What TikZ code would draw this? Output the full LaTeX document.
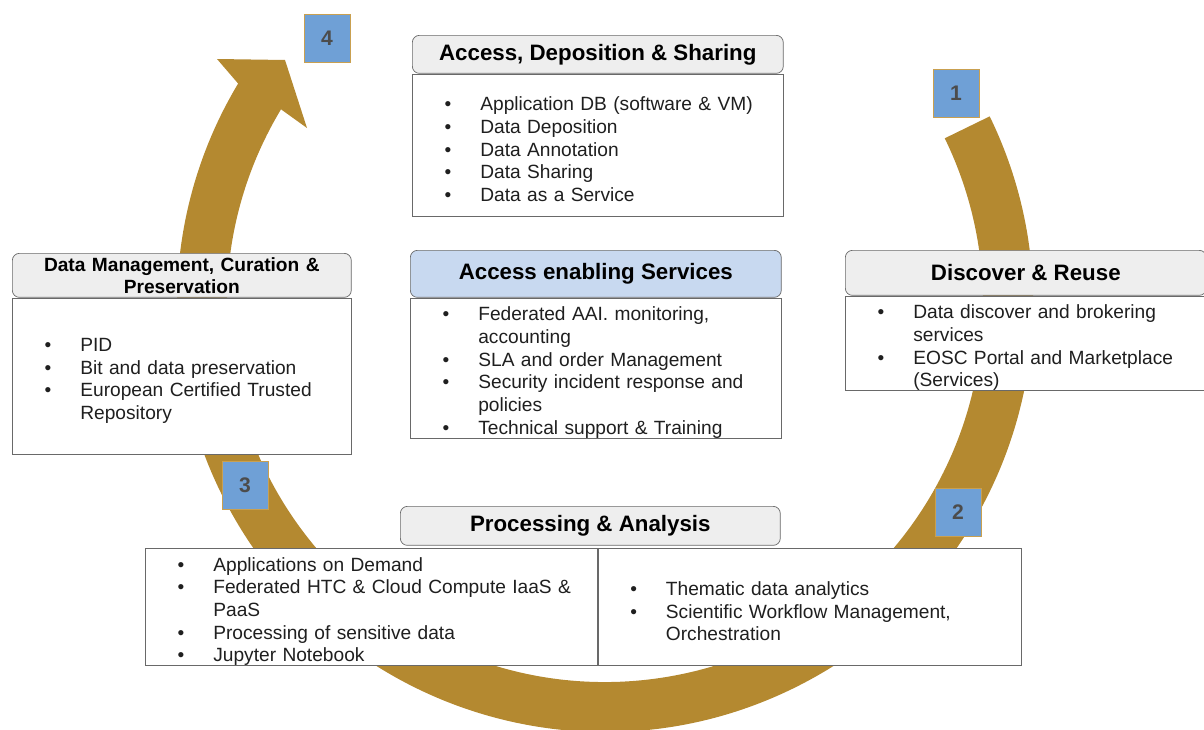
\documentclass[tikz,border=0pt]{standalone}
\usepackage{fontspec}
\setmainfont{Liberation Sans}
\usetikzlibrary{positioning,calc}

\definecolor{bandgold}{RGB}{180,137,48}
\definecolor{numblue}{RGB}{111,160,214}
\definecolor{numframe}{RGB}{201,160,80}
\definecolor{headgray}{RGB}{238,238,238}
\definecolor{headblue}{RGB}{200,217,240}
\definecolor{linegray}{RGB}{105,105,105}

% one bulleted entry of a box
\newcommand{\bitem}[1]{\par\leftskip=1.36cm\leavevmode\llap{\textbullet\hspace{0.58cm}}#1}

\tikzset{
  head/.style={draw=linegray, fill=headgray, rounded corners=4pt, inner sep=0pt,
    font=\bfseries\fontsize{12.7}{15}\selectfont, anchor=north west},
  body/.style={draw=linegray, fill=white, inner sep=0pt, align=left,
    font=\fontsize{10.9}{12.9}\selectfont, text=black!88, anchor=north west},
  numbox/.style={draw=numframe, fill=numblue, minimum width=0.92cm, minimum height=0.96cm,
    inner sep=0pt, font=\bfseries\fontsize{12}{14}\selectfont, text=black!70}
}

\begin{document}
\begin{tikzpicture}[x=0.02cm, y=-0.02cm]
 \useasboundingbox (0,0) rectangle (1204,730);
 \clip (0,0) rectangle (1204,730);

 % cycle arrow
 \coordinate (hub) at (605,304);
 \coordinate (barbout) at (217,59);
 \coordinate (tip) at (285,60);
 \coordinate (barbin) at (307,128);
 \fill[bandgold] ($(hub)+(-26:428)$) arc[start angle=-26, end angle=211, radius=428]
   -- (barbout) -- (tip) -- (barbin)
   -- ($(hub)+(211:378)$) arc[start angle=211, end angle=-26, radius=378] -- cycle;

 \node[head, minimum width=7.42cm, minimum height=0.76cm] (adsHead) at (412,35) {Access, Deposition \& Sharing};
 \node[body, text width=7.42cm, minimum height=2.84cm, below right=0pt and 0pt of adsHead.south west] (adsBody)
   {\bitem{Application DB (software \& VM)}\bitem{Data Deposition}\bitem{Data Annotation}\bitem{Data Sharing}\bitem{Data as a Service}\par};

 \node[head, fill=headblue, minimum width=7.42cm, minimum height=0.94cm] (aesHead) at (410,250) {Access enabling Services};
 \node[body, text width=7.42cm, minimum height=2.8cm, below right=0pt and 0pt of aesHead.south west] (aesBody)
   {\bitem{Federated AAI. monitoring,\\accounting}\bitem{SLA and order Management}\bitem{Security incident response and\\policies}\bitem{Technical support \& Training}\par};

 \node[head, minimum width=7.22cm, minimum height=0.9cm] (drHead) at (845,250) {Discover \& Reuse};
 \node[body, text width=7.22cm, minimum height=1.86cm, below right=0pt and 0pt of drHead.south west] (drBody)
   {\bitem{Data discover and brokering\\services}\bitem{EOSC Portal and Marketplace\\(Services)}\par};

 \node[head, minimum width=6.78cm, minimum height=0.88cm, text width=6.78cm, align=center,
   font=\bfseries\fontsize{10.9}{12.5}\selectfont] (dmHead) at (12,253) {Data Management, Curation \&\\Preservation};
 \node[body, text width=6.78cm, minimum height=3.12cm, below right=0pt and 0pt of dmHead.south west] (dmBody)
   {\bitem{PID}\bitem{Bit and data preservation}\bitem{European Certified Trusted\\Repository}\par};

 \node[head, minimum width=7.6cm, minimum height=0.78cm] (paHead) at (400,506) {Processing \& Analysis};
 \node[body, text width=9.04cm, minimum height=2.34cm] (paLeft) at (145,548)
   {\bitem{Applications on Demand}\bitem{Federated HTC \& Cloud Compute IaaS \&\\PaaS}\bitem{Processing of sensitive data}\bitem{Jupyter Notebook}\par};
 \node[body, text width=8.46cm, minimum height=2.34cm, below right=0pt and 0pt of paLeft.north east] (paRight)
   {\bitem{Thematic data analytics}\bitem{Scientific Workflow Management,\\Orchestration}\par};

 % step numbers
 \node[numbox] (n1) at (956,93) {1};
 \node[numbox] (n2) at (958,512) {2};
 \node[numbox] (n3) at (245,485) {3};
 \node[numbox] (n4) at (327,38) {4};
\end{tikzpicture}
\end{document}
